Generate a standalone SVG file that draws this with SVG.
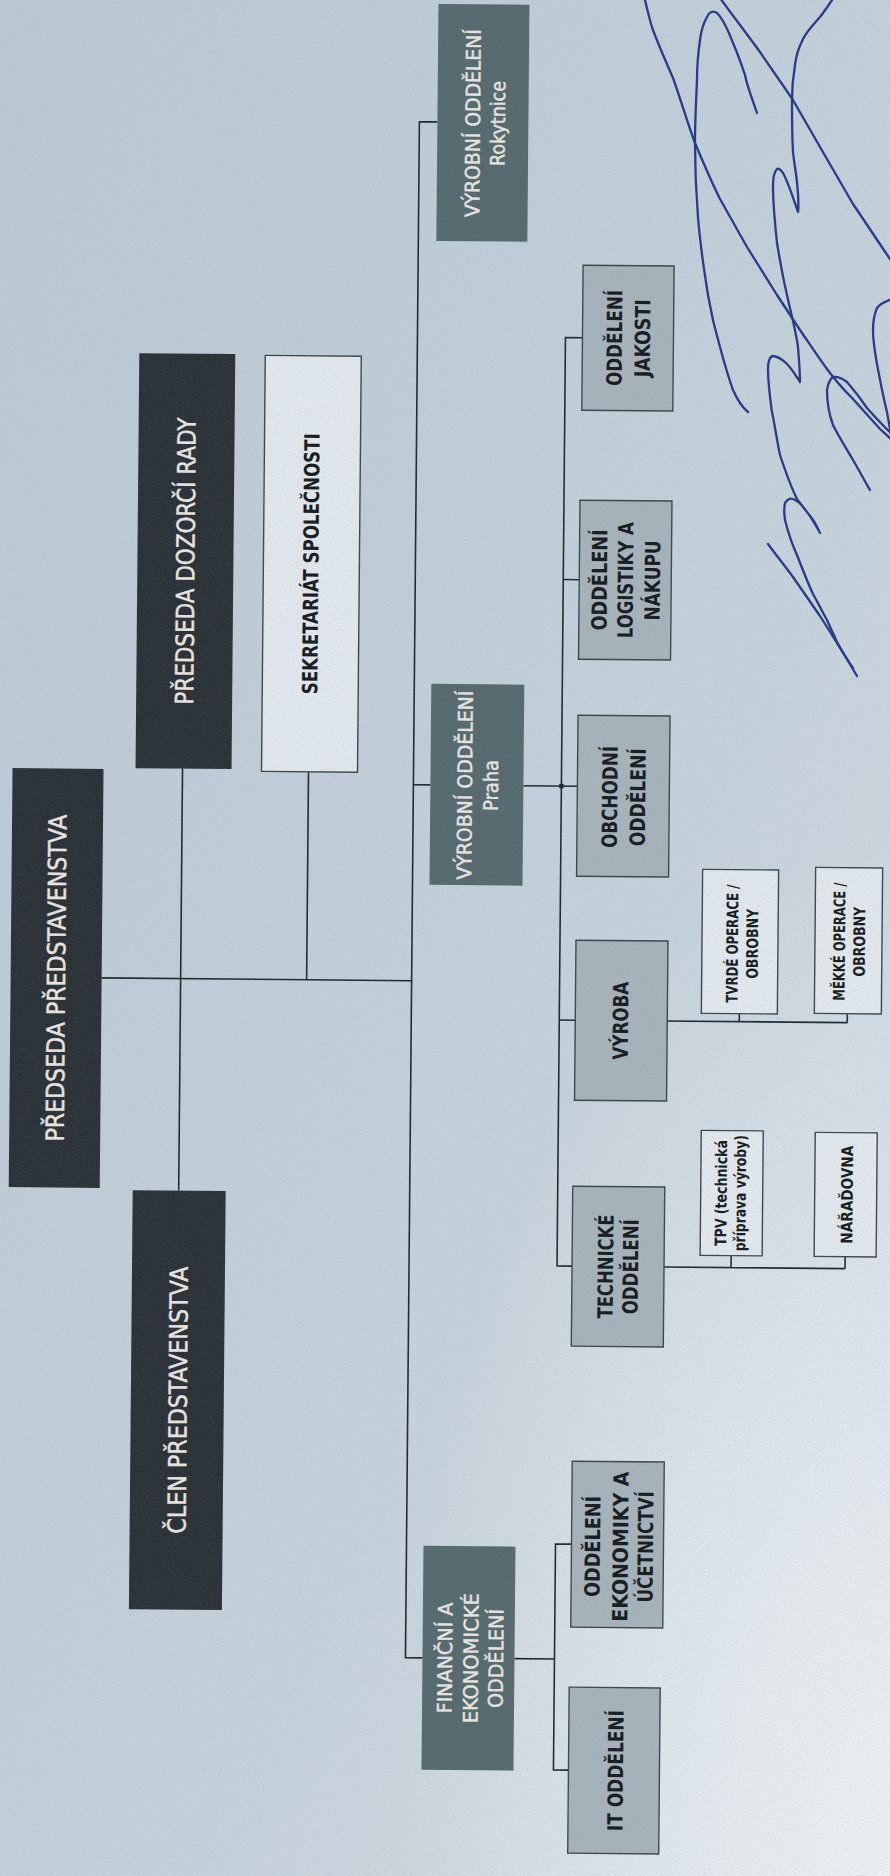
<svg xmlns="http://www.w3.org/2000/svg" width="890" height="1876" viewBox="0 0 890 1876">
<defs>
<linearGradient id="bg" x1="0" y1="0" x2="1" y2="1">
<stop offset="0" stop-color="#bccad5"/>
<stop offset="0.55" stop-color="#c6d2dc"/>
<stop offset="1" stop-color="#d8e1e8"/>
</linearGradient>
<radialGradient id="hl" cx="1" cy="1" r="0.55">
<stop offset="0" stop-color="#f1f4f6" stop-opacity="0.95"/>
<stop offset="1" stop-color="#f1f4f6" stop-opacity="0"/>
</radialGradient>
<filter id="noise" x="0" y="0" width="100%" height="100%" filterUnits="userSpaceOnUse">
<feTurbulence type="fractalNoise" baseFrequency="0.85" numOctaves="2" seed="7"/>
<feColorMatrix type="matrix" values="0 0 0 0 0.22  0 0 0 0 0.28  0 0 0 0 0.34  1 0 0 0 -0.38"/>
</filter>
<style>
.c{fill:none;stroke:#1e272c;stroke-width:1.6}
.dark{fill:#282f34}
.teal{fill:#55696d}
.gray{fill:#a7b4bb;stroke:#3b464b;stroke-width:1.4}
.white{fill:#e4eaee;stroke:#3b464b;stroke-width:1.4}
.t{font-family:"Liberation Sans Narrow","DejaVu Sans Condensed","Open Sans",sans-serif;text-anchor:middle}
.lt{fill:#ede7e3;stroke:#ede7e3;stroke-width:0.45}
.dk{fill:#15191c;font-weight:bold}
.big{font-size:25px}
.mid{font-size:20px}
.sub{font-size:21px}
.sm{font-size:16px}
.sig{fill:none;stroke:#2c3b88;stroke-width:2.3;stroke-linecap:round;stroke-linejoin:round}
</style>
</defs>
<rect x="0" y="0" width="890" height="1876" fill="url(#bg)"/>
<rect x="0" y="0" width="890" height="1876" fill="url(#hl)"/>
<g transform="rotate(0.52 445 938)">
<g id="connectors">
<path class="c" d="M102,981 H412"/>
<path class="c" d="M181,771 V1193"/>
<path class="c" d="M307,773 V981"/>
<path class="c" d="M430,122 H412 V1658 H429"/>
<path class="c" d="M412,785 H429"/>
<path class="c" d="M522,785 H576"/>
<path class="c" d="M577,336.5 H560 V1265 H575"/>
<path class="c" d="M560,578.5 H576"/>
<path class="c" d="M560,1019 H576"/>
<circle cx="560" cy="785" r="2.6" fill="#1e272c"/>
<path class="c" d="M668,1019 H848 M740,1011 V1019 M848,1010 V1019"/>
<path class="c" d="M667,1265 H848 M734,1253 V1265 M848,1253 V1265"/>
<path class="c" d="M521,1658 H561 M577,1543 H561 V1769 H576"/>
</g>
<g id="predseda-predstavenstva">
<rect class="dark" x="11" y="772" width="91" height="419"/>
<text class="t lt big" transform="translate(65.5,981.5) rotate(-90)" textLength="327" lengthAdjust="spacingAndGlyphs">PŘEDSEDA PŘEDSTAVENSTVA</text>
</g>
<g id="predseda-dozorci-rady">
<rect class="dark" x="134" y="356" width="96" height="415"/>
<text class="t lt big" transform="translate(191,563.5) rotate(-90)" textLength="287" lengthAdjust="spacingAndGlyphs">PŘEDSEDA DOZORČÍ RADY</text>
</g>
<g id="sekretariat">
<rect class="white" x="260" y="357" width="96" height="416"/>
<text class="t dk sub" transform="translate(315,565) rotate(-90)" textLength="261" lengthAdjust="spacingAndGlyphs">SEKRETARIÁT SPOLEČNOSTI</text>
</g>
<g id="clen-predstavenstva">
<rect class="dark" x="135" y="1193" width="93" height="419"/>
<text class="t lt big" transform="translate(191,1402.5) rotate(-90)" textLength="267" lengthAdjust="spacingAndGlyphs">ČLEN PŘEDSTAVENSTVA</text>
</g>
<g id="vyrobni-rokytnice">
<rect class="teal" x="430" y="4" width="91" height="237"/>
<text class="t lt mid" transform="translate(472.6,123) rotate(-90)" textLength="188" lengthAdjust="spacingAndGlyphs">VÝROBNÍ ODDĚLENÍ</text>
<text class="t lt mid" transform="translate(497.5,123) rotate(-90)" textLength="85" lengthAdjust="spacingAndGlyphs">Rokytnice</text>
</g>
<g id="vyrobni-praha">
<rect class="teal" x="429" y="684" width="93" height="201"/>
<text class="t lt mid" transform="translate(470.6,785) rotate(-90)" textLength="189" lengthAdjust="spacingAndGlyphs">VÝROBNÍ ODDĚLENÍ</text>
<text class="t lt mid" transform="translate(496.6,785) rotate(-90)" textLength="51" lengthAdjust="spacingAndGlyphs">Praha</text>
</g>
<g id="financni">
<rect class="teal" x="429" y="1546" width="92" height="224"/>
<text class="t lt mid" transform="translate(458.6,1658) rotate(-90)" textLength="111" lengthAdjust="spacingAndGlyphs">FINANČNÍ A</text>
<text class="t lt mid" transform="translate(484.6,1658) rotate(-90)" textLength="130" lengthAdjust="spacingAndGlyphs">EKONOMICKÉ</text>
<text class="t lt mid" transform="translate(509.6,1658) rotate(-90)" textLength="99" lengthAdjust="spacingAndGlyphs">ODDĚLENÍ</text>
</g>
<g id="jakost">
<rect class="gray" x="577" y="264" width="91" height="145"/>
<text class="t dk sub" transform="translate(616.5,336.5) rotate(-90)" textLength="96" lengthAdjust="spacingAndGlyphs">ODDĚLENÍ</text>
<text class="t dk sub" transform="translate(644.5,336.5) rotate(-90)" textLength="78" lengthAdjust="spacingAndGlyphs">JAKOSTI</text>
</g>
<g id="logistika">
<rect class="gray" x="576" y="499" width="92" height="159"/>
<text class="t dk sub" transform="translate(603.7,578.5) rotate(-90)" textLength="101" lengthAdjust="spacingAndGlyphs">ODDĚLENÍ</text>
<text class="t dk sub" transform="translate(629.7,578.5) rotate(-90)" textLength="116" lengthAdjust="spacingAndGlyphs">LOGISTIKY A</text>
<text class="t dk sub" transform="translate(656.7,578.5) rotate(-90)" textLength="80" lengthAdjust="spacingAndGlyphs">NÁKUPU</text>
</g>
<g id="obchodni">
<rect class="gray" x="576" y="714" width="92" height="161"/>
<text class="t dk sub" transform="translate(616,795.5) rotate(-90)" textLength="102" lengthAdjust="spacingAndGlyphs">OBCHODNÍ</text>
<text class="t dk sub" transform="translate(644,795.5) rotate(-90)" textLength="98" lengthAdjust="spacingAndGlyphs">ODDĚLENÍ</text>
</g>
<g id="vyroba">
<rect class="gray" x="576" y="939" width="92" height="160"/>
<text class="t dk sub" transform="translate(628.8,1019) rotate(-90)" textLength="78" lengthAdjust="spacingAndGlyphs">VÝROBA</text>
</g>
<g id="technicke">
<rect class="gray" x="575" y="1185" width="92" height="160"/>
<text class="t dk sub" transform="translate(616,1265) rotate(-90)" textLength="104" lengthAdjust="spacingAndGlyphs">TECHNICKÉ</text>
<text class="t dk sub" transform="translate(641,1265) rotate(-90)" textLength="95" lengthAdjust="spacingAndGlyphs">ODDĚLENÍ</text>
</g>
<g id="ekonomika">
<rect class="gray" x="577" y="1460" width="92" height="166"/>
<text class="t dk sub" transform="translate(605.5,1545) rotate(-90)" textLength="101" lengthAdjust="spacingAndGlyphs">ODDĚLENÍ</text>
<text class="t dk sub" transform="translate(633.5,1545) rotate(-90)" textLength="150" lengthAdjust="spacingAndGlyphs">EKONOMIKY A</text>
<text class="t dk sub" transform="translate(658.5,1545) rotate(-90)" textLength="111" lengthAdjust="spacingAndGlyphs">ÚČETNICTVÍ</text>
</g>
<g id="it">
<rect class="gray" x="576" y="1686" width="91" height="166"/>
<text class="t dk sub" transform="translate(630.6,1769) rotate(-90)" textLength="121" lengthAdjust="spacingAndGlyphs">IT ODDĚLENÍ</text>
</g>
<g id="tvrde">
<rect class="white" x="702" y="867" width="76" height="144"/>
<text class="t dk sm" transform="translate(738,941) rotate(-90)" textLength="118" lengthAdjust="spacingAndGlyphs">TVRDÉ OPERACE /</text>
<text class="t dk sm" transform="translate(758,941) rotate(-90)" textLength="70" lengthAdjust="spacingAndGlyphs">OBROBNY</text>
</g>
<g id="mekke">
<rect class="white" x="815" y="864" width="67" height="146"/>
<text class="t dk sm" transform="translate(845,938) rotate(-90)" textLength="118" lengthAdjust="spacingAndGlyphs">MĚKKÉ OPERACE /</text>
<text class="t dk sm" transform="translate(865,938) rotate(-90)" textLength="70" lengthAdjust="spacingAndGlyphs">OBROBNY</text>
</g>
<g id="tpv">
<rect class="white" x="703" y="1128" width="62" height="125"/>
<text class="t dk sm" transform="translate(729,1190.5) rotate(-90)" textLength="106" lengthAdjust="spacingAndGlyphs">TPV (technická</text>
<text class="t dk sm" transform="translate(748,1190.5) rotate(-90)" textLength="116" lengthAdjust="spacingAndGlyphs">příprava výroby)</text>
</g>
<g id="naradovna">
<rect class="white" x="817" y="1129" width="62" height="124"/>
<text class="t dk sm" transform="translate(855,1191) rotate(-90)" textLength="98" lengthAdjust="spacingAndGlyphs">NÁŘAĎOVNA</text>
</g>
</g>
<rect x="0" y="0" width="890" height="1876" filter="url(#noise)" opacity="0.45"/>
<g id="signature">
<path class="sig" d="M645,0 C648,12 650,22 653,30 C659,46 666,62 673,78 C681,100 687,122 695,143 C703,162 711,181 720,199 C729,215 738,231 747,247 C757,263 767,279 777,295 C785,307 792,318 800,330 C809,343 818,357 827,369 C835,380 844,390 853,399 C862,409 871,419 880,429 L892,440"/>
<path class="sig" d="M757,113 C752,98 747,86 745,75 C741,63 737,52 733,43 C728,30 722,18 717,13 C713,10 709,12 707,17 C703,24 701,32 700,40 C698,54 697,66 697,80 C696,101 695,122 695,143 C695,168 696,192 698,217 C700,243 704,270 708,295 C711,313 715,330 720,347 C724,362 728,376 733,390 C737,399 742,407 748,412"/>
<path class="sig" d="M720,-2 C733,16 747,34 760,52 C771,68 782,84 793,100 C802,116 811,131 820,147 C831,166 842,185 853,204 C866,223 879,243 892,262"/>
<path class="sig" d="M832,0 C828,6 824,12 820,17 C814,24 807,31 803,39 C799,47 796,56 795,65 C793,77 792,88 792,100 C792,117 792,135 793,152 C794,162 796,172 797,182 C798,192 799,204 798,212 C794,200 788,182 783,173 C781,170 779,168 777,169 C774,172 773,179 773,186 C773,205 775,224 777,243 C780,261 783,278 787,295 C789,304 791,313 793,321 C795,330 797,339 798,347 C799,359 800,371 800,382 C796,376 792,369 787,364 C782,359 777,356 772,356 C769,358 768,363 768,369 C768,383 770,398 772,412 C775,426 777,441 780,455 C785,470 790,485 797,499 C802,506 808,513 813,520 C816,524 818,529 820,533 C816,526 812,518 807,512 C803,506 798,501 793,499 C790,498 787,500 785,503 C784,508 784,514 785,520 C788,532 792,544 797,555 C802,568 807,581 813,594 C818,603 822,611 827,620 C830,627 834,635 837,642 C842,651 847,660 853,668"/>
<path class="sig" d="M768,544 C776,555 785,566 793,577 C802,590 811,603 820,616 C829,630 838,645 847,659 L857,676"/>
<path class="sig" d="M892,299 C886,301 880,304 877,308 C874,315 873,322 873,330 C873,341 875,353 877,364 C880,380 883,396 887,412 L892,440"/>
<path class="sig" d="M870,490 C864,480 859,470 853,460 C846,448 839,437 833,425 C829,414 827,402 827,390 C828,384 830,379 833,377 C838,376 843,379 847,382 C854,390 861,399 867,408 C875,417 883,426 892,434"/>
</g>
</svg>
